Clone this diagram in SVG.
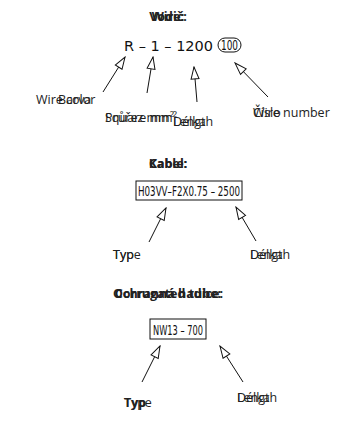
<svg xmlns="http://www.w3.org/2000/svg" width="337" height="428" viewBox="0 0 337 428">
<defs>
<style>
.t{font-family:"Open Sans","Noto Sans",sans-serif;font-size:12.5px;fill:#222}
.b{font-family:"Open Sans","Noto Sans",sans-serif;font-size:12.5px;font-weight:bold;fill:#222}
.c{font-family:"DejaVu Sans",sans-serif;font-size:14px;fill:#111}
.ln{stroke:#111;stroke-width:1;fill:none}
.box{stroke:#111;stroke-width:1;fill:#fff}
</style>
<marker id="ah" viewBox="0 0 14 10" refX="13" refY="5" markerWidth="14" markerHeight="10" markerUnits="userSpaceOnUse" orient="auto">
<path d="M1,1 L13,5 L1,9 Z" fill="#fff" stroke="#111" stroke-width="1"/>
</marker>
</defs>
<rect width="337" height="428" fill="#fff"/>
<g id="wire">
<text class="b" x="168" y="21" text-anchor="middle">Vodič:</text>
<text class="b" x="168" y="21" text-anchor="middle">Wire:</text>
<text class="c" x="124" y="51" textLength="89" lengthAdjust="spacingAndGlyphs">R –  1  –  1200</text>
<rect class="ln" x="218" y="38" width="23" height="14" rx="7"/>
<text class="c" x="221" y="50" font-size="13" textLength="17" lengthAdjust="spacingAndGlyphs">100</text>
</g>
<g id="wire-labels">
<text class="t" x="36" y="104">Wire color</text>
<text class="t" x="58" y="104">Barva</text>
<text class="t" x="105" y="122">Průřez mm²</text>
<text class="t" x="105" y="122">Square mm²</text>
<text class="t" x="173" y="126">Délka</text>
<text class="t" x="173" y="126">Length</text>
<text class="t" x="253" y="117">Číslo</text>
<text class="t" x="253" y="117">Wire number</text>
</g>
<g id="cable">
<text class="b" x="168" y="168" text-anchor="middle">Kabel:</text>
<text class="b" x="168" y="168" text-anchor="middle">Cable:</text>
<rect class="box" x="136" y="181" width="106" height="19"/>
<text class="c" x="138" y="196" textLength="102" lengthAdjust="spacingAndGlyphs">H03VV–F2X0.75 – 2500</text>
<text class="t" x="113" y="259">Type</text>
<text class="t" x="113" y="259">Typ</text>
<text class="t" x="250" y="259">Délka</text>
<text class="t" x="250" y="259">Length</text>
</g>
<g id="hose">
<text class="b" x="168" y="298" text-anchor="middle">Ochranná hadice:</text>
<text class="b" x="168" y="298" text-anchor="middle">Corrugated tube:</text>
<rect class="box" x="150" y="319" width="56" height="20"/>
<text class="c" x="153" y="335" textLength="50" lengthAdjust="spacingAndGlyphs">NW13 –   700</text>
<text class="t" x="124" y="407">Type</text>
<text class="b" x="124" y="407">Typ</text>
<text class="t" x="237" y="402">Délka</text>
<text class="t" x="237" y="402">Length</text>
</g>
<g id="connectors">
<line class="ln" x1="103" y1="92" x2="125" y2="57" marker-end="url(#ah)"/>
<line class="ln" x1="147" y1="93" x2="153" y2="57" marker-end="url(#ah)"/>
<line class="ln" x1="197" y1="102" x2="194" y2="67" marker-end="url(#ah)"/>
<line class="ln" x1="268" y1="97" x2="235" y2="63" marker-end="url(#ah)"/>
<line class="ln" x1="149" y1="242" x2="166" y2="208" marker-end="url(#ah)"/>
<line class="ln" x1="256" y1="241" x2="236" y2="207" marker-end="url(#ah)"/>
<line class="ln" x1="142" y1="382" x2="160" y2="346" marker-end="url(#ah)"/>
<line class="ln" x1="243" y1="382" x2="220" y2="346" marker-end="url(#ah)"/>
</g>
</svg>
